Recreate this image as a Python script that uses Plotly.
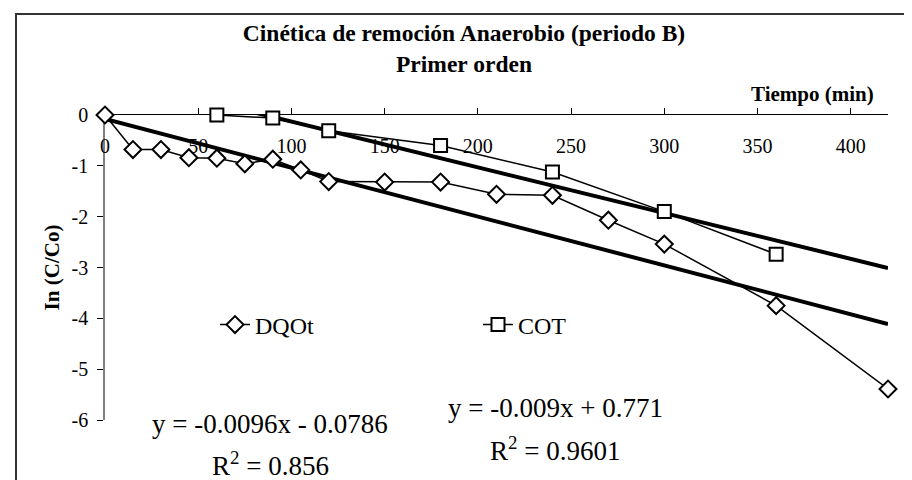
import plotly.graph_objects as go

# ---- data ----
dqo_x = [0, 15, 30, 45, 60, 75, 90, 105, 120, 150, 180, 210, 240, 270, 300, 360, 420]
dqo_y = [0, -0.68, -0.68, -0.84, -0.85, -0.96, -0.87, -1.08, -1.31, -1.32, -1.32,
         -1.56, -1.58, -2.07, -2.54, -3.75, -5.39]
cot_x = [60, 90, 120, 180, 240, 300, 360]
cot_y = [0, -0.06, -0.31, -0.60, -1.12, -1.90, -2.74]

# linear trend lines (from the equations shown)
dqo_slope, dqo_intercept = -0.0096, -0.0786
cot_slope, cot_intercept = -0.009, 0.771
dqo_trend_x = [0, 420]
cot_trend_x = [60, 420]

x_ticks = [0, 50, 100, 150, 200, 250, 300, 350, 400]
y_ticks = [-6, -5, -4, -3, -2, -1, 0]
y_tick_labels = ["-6", "-5", "-4", "-3", "-2", "-1", "0"]

FONT = "Liberation Serif, Times New Roman, serif"

fig = go.Figure()

fig.add_trace(go.Scatter(
    x=dqo_trend_x, y=[dqo_slope * v + dqo_intercept for v in dqo_trend_x],
    mode="lines", line=dict(color="black", width=4), showlegend=False, hoverinfo="skip"))
fig.add_trace(go.Scatter(
    x=cot_trend_x, y=[cot_slope * v + cot_intercept for v in cot_trend_x],
    mode="lines", line=dict(color="black", width=4), showlegend=False, hoverinfo="skip"))

fig.add_trace(go.Scatter(
    x=dqo_x, y=dqo_y, name="DQOt", mode="lines+markers",
    line=dict(color="black", width=1.5),
    marker=dict(symbol="diamond", size=13, color="white", line=dict(color="black", width=2)),
    cliponaxis=False))
fig.add_trace(go.Scatter(
    x=cot_x, y=cot_y, name="COT", mode="lines+markers",
    line=dict(color="black", width=1.5),
    marker=dict(symbol="square", size=13, color="white", line=dict(color="black", width=2)),
    cliponaxis=False))

def px_x(p):
    return (p - 97) / 783.0

def px_y(p):
    return (412 - p) / 305.0

annotations = [
    dict(text="<b>Tiempo (min)</b>", x=px_x(868), y=px_y(86), xanchor="right", yanchor="middle",
         font=dict(family=FONT, size=21, color="black")),
    dict(text="y = -0.0096x - 0.0786", x=px_x(262), y=px_y(416), xanchor="center", yanchor="middle",
         font=dict(family=FONT, size=27, color="black")),
    dict(text="R<sup>2</sup> = 0.856", x=px_x(262), y=px_y(456), xanchor="center", yanchor="middle",
         font=dict(family=FONT, size=27, color="black")),
    dict(text="y = -0.009x + 0.771", x=px_x(547), y=px_y(400), xanchor="center", yanchor="middle",
         font=dict(family=FONT, size=27, color="black")),
    dict(text="R<sup>2</sup> = 0.9601", x=px_x(547), y=px_y(441), xanchor="center", yanchor="middle",
         font=dict(family=FONT, size=27, color="black")),
]
for a in annotations:
    a.update(xref="paper", yref="paper", showarrow=False)

fig.update_layout(
    width=912, height=480, autosize=False,
    margin=dict(l=97, r=32, t=107, b=68),
    paper_bgcolor="white", plot_bgcolor="white",
    font=dict(family=FONT, color="black"),
    title=dict(text="<b>Cinética de remoción Anaerobio (periodo B)<br>Primer orden</b>",
               x=0.5, xref="container", xanchor="center",
               y=1 - 33 / 480, yref="container", yanchor="middle",
               font=dict(family=FONT, size=23.5, color="black")),
    xaxis=dict(range=[0, 420], side="top", showline=True, linecolor="black", linewidth=1,
               ticks="outside", ticklen=6, tickcolor="black", tickwidth=1,
               tickvals=x_ticks, ticklabelposition="inside", ticklabeloverflow="allow",
               ticklabelstandoff=25, automargin=False,
               showgrid=False, zeroline=False, layer="below traces",
               tickfont=dict(family=FONT, size=20, color="black")),
    yaxis=dict(range=[-6, 0], showline=True, linecolor="#808080", linewidth=1.5,
               ticks="outside", ticklen=6, tickcolor="black", tickwidth=1,
               tickvals=y_ticks, ticktext=y_tick_labels, ticklabelstandoff=5,
               ticklabeloverflow="allow", automargin=False,
               showgrid=False, zeroline=False, layer="below traces",
               tickfont=dict(family=FONT, size=20, color="black"),
               title=dict(text="<b>In (C/Co)</b>", standoff=6,
                          font=dict(family=FONT, size=21, color="black"))),
    legend=dict(orientation="h", x=px_x(207), y=px_y(317), xanchor="left", yanchor="middle",
                entrywidth=218, bgcolor="rgba(0,0,0,0)",
                font=dict(family=FONT, size=24, color="black")),
    annotations=annotations,
    shapes=[dict(type="rect", xref="paper", yref="paper",
                 x0=px_x(8), y0=px_y(6), x1=px_x(930), y1=px_y(500),
                 line=dict(color="#333333", width=2), fillcolor="rgba(0,0,0,0)", layer="above")],
)

fig.write_html("out.html")
